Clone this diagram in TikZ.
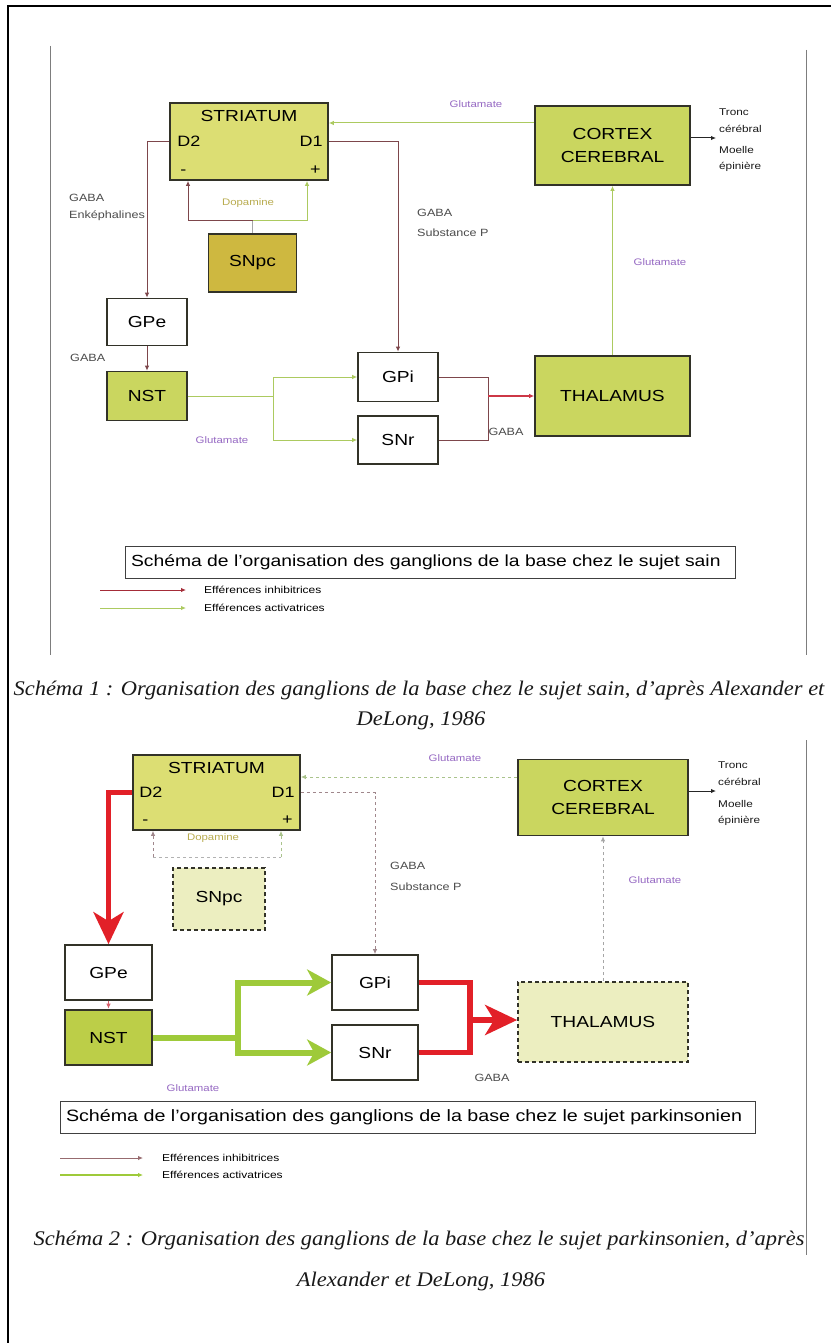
\documentclass[tikz,border=0pt]{standalone}
\usepackage{fontspec}
\setmainfont{Liberation Sans}[FakeStretch=1.2]
\newfontfamily\capfont{Liberation Serif}[FakeStretch=1.08]
\usetikzlibrary{arrows.meta}

\definecolor{boxline}{RGB}{50,50,40}
\definecolor{striafill}{RGB}{220,222,115}
\definecolor{greenfill}{RGB}{202,214,95}
\definecolor{snpcfill}{RGB}{206,184,64}
\definecolor{nstfill}{RGB}{188,206,72}
\definecolor{palefill}{RGB}{236,238,192}
\definecolor{inhib}{RGB}{125,70,75}
\definecolor{inhibred}{RGB}{205,55,70}
\definecolor{activ}{RGB}{172,202,96}
\definecolor{glut}{RGB}{150,105,195}
\definecolor{dopa}{RGB}{185,172,80}
\definecolor{redthick}{RGB}{226,32,40}
\definecolor{greenthick}{RGB}{158,202,58}
\definecolor{panelgray}{RGB}{125,125,125}
\definecolor{dashgray}{RGB}{160,135,140}
\definecolor{dashgreen}{RGB}{170,195,140}

\tikzset{
  blk/.style={draw=boxline, line width=1.7pt, inner sep=0pt, align=center,
              font=\fontsize{16}{23}\selectfont},
  intext/.style={inner sep=0pt, font=\fontsize{15}{17}\selectfont},
  lbl/.style={inner sep=0pt, font=\fontsize{10.5}{12}\selectfont, text=black!70},
  glutlbl/.style={lbl, text=glut, font=\fontsize{9.5}{11}\selectfont},
  dopalbl/.style={lbl, text=dopa, font=\fontsize{9.5}{11}\selectfont},
  side/.style={inner sep=0pt, anchor=west, text=black!90, font=\fontsize{9.8}{11}\selectfont},
  titlebox/.style={draw=black!75, line width=0.9pt, inner xsep=6pt, inner ysep=0pt,
                   minimum height=32pt, align=left},
  legtext/.style={inner sep=0pt, anchor=west, font=\fontsize{10}{12}\selectfont},
  caption/.style={inner sep=0pt, text=black!90, font=\capfont\itshape\fontsize{20.8}{24}\selectfont},
  smalltip/.style={-{Latex[length=5pt,width=4.5pt]}},
  thininh/.style={draw=inhib, line width=1pt, smalltip},
  thinact/.style={draw=activ, line width=1pt, smalltip},
  dashinh/.style={draw=dashgray, line width=0.9pt, dash pattern=on 3pt off 3pt, smalltip},
  dashact/.style={draw=dashgreen, line width=0.9pt, dash pattern=on 3pt off 3pt, smalltip},
  bigred/.style={draw=redthick, line width=5.5pt},
  biggreen/.style={draw=greenthick, line width=6pt},
  bigtip/.style={-{Stealth[length=32pt,width=30pt,inset=9pt]}},
  greentip/.style={-{Stealth[length=24pt,width=26pt,inset=7pt]}},
}

\begin{document}
\begin{tikzpicture}[x=1pt,y=-1pt]
\useasboundingbox (0,0) rectangle (831,1343);
\fill[white] (0,0) rectangle (831,1343);

% page frame (top and left edges)
\draw[black, line width=2.4pt] (8,1343) -- (8,6) -- (831,6);
% panel side rules
\draw[panelgray, line width=0.9pt] (50,46) -- (50,655);
\draw[panelgray, line width=0.9pt] (806,50) -- (806,655);
\draw[panelgray, line width=0.9pt] (806,740) -- (806,1255);

%%%%%%%%%%%%%%%%%%%%%%%%%%%%%%%% healthy subject
\node[blk, fill=striafill, minimum width=158pt, minimum height=77pt] (stri1) at (249,141.5) {};
\node[intext, anchor=north, font=\fontsize{16}{18}\selectfont] (stri1t) at ([yshift=-8pt]stri1.north) {STRIATUM};
\node[intext, anchor=west] (stri1a) at ([xshift=8pt]stri1.west) {D2};
\node[intext, anchor=east] (stri1b) at ([xshift=-6pt]stri1.east) {D1};
\node[intext, anchor=south west] (stri1c) at ([xshift=11pt,yshift=6pt]stri1.south west) {-};
\node[intext, anchor=south east] (stri1d) at ([xshift=-8pt,yshift=6pt]stri1.south east) {+};

\node[blk, fill=greenfill, minimum width=155pt, minimum height=79pt] (cort1) at (612.5,145.5) {CORTEX\\CEREBRAL};
\node[blk, fill=snpcfill, minimum width=88pt, minimum height=58pt] (snpc1) at (252.5,263) {SNpc};
\node[blk, fill=white, minimum width=80pt, minimum height=47pt] (gpe1) at (147,322) {GPe};
\node[blk, fill=greenfill, minimum width=80pt, minimum height=49pt] (nst1) at (147,396) {NST};
\node[blk, fill=white, minimum width=80pt, minimum height=49pt] (gpi1) at (398,377) {GPi};
\node[blk, fill=white, minimum width=80pt, minimum height=48pt] (snr1) at (398,440) {SNr};
\node[blk, fill=greenfill, minimum width=155pt, minimum height=80pt] (thal1) at (612.5,396) {THALAMUS};

% labels
\node[glutlbl] (g1a) at (476,104) {Glutamate};
\node[lbl, anchor=west] (g1b) at (69,198) {GABA};
\node[lbl, anchor=west] (g1c) at (69,216) {Enképhalines};
\node[dopalbl] (g1d) at (248,203) {Dopamine};
\node[lbl, anchor=west] (g1e) at (417,213) {GABA};
\node[lbl, anchor=west] (g1f) at (417,233) {Substance P};
\node[glutlbl] (g1g) at (660,262) {Glutamate};
\node[lbl, anchor=west] (g1h) at (70,358) {GABA};
\node[glutlbl] (g1i) at (222,440) {Glutamate};
\node[lbl] (g1j) at (506,432) {GABA};
\node[side] (tr1a) at (719,112) {Tronc};
\node[side] (tr1b) at (719,129) {cérébral};
\node[side] (tr1c) at (719,150) {Moelle};
\node[side] (tr1d) at (719,167) {épinière};
\coordinate (out1) at (716,138);

% connectors
\draw[thinact] (cort1.west |- 0,123) -- (stri1.east |- 0,123);
\draw[black!85, line width=1pt, -{Latex[length=5pt,width=4.5pt]}] (cort1.east |- out1) -- (out1);
\draw[thininh] (stri1.east) -- (stri1.east -| gpi1.north) -- (gpi1.north);
\draw[thininh] (stri1.west) -- (stri1.west -| gpe1.north) -- (gpe1.north);
\coordinate (dop1) at (snpc1.north |- 0,220);
\draw[gray!70, line width=1pt] (snpc1.north) -- (dop1);
\draw[thininh] (dop1) -- (188,220) -- (stri1.south -| 188,0);
\draw[thinact] (dop1) -- (307,220) -- (stri1.south -| 307,0);
\draw[thininh] (gpe1.south) -- (nst1.north);
\coordinate (br1) at (273,396);
\draw[activ, line width=1pt] (nst1.east) -- (br1);
\draw[thinact] (br1) |- (gpi1.west);
\draw[thinact] (br1) |- (snr1.west);
\coordinate (j1) at (488,396);
\draw[inhib, line width=1pt] (gpi1.east) -- (gpi1.east -| j1) -- (snr1.east -| j1) -- (snr1.east);
\draw[draw=inhibred, line width=1.4pt, smalltip] (j1) -- (thal1.west);
\draw[thinact] (thal1.north) -- (cort1.south);

% title and legend
\node[titlebox, text width=598pt, font=\fontsize{16.1}{18}\selectfont] (tb1) at (430,562.5) {Schéma de l'organisation des ganglions de la base chez le sujet sain};
\coordinate (l1a) at (100,590); \coordinate (l1b) at (186,590);
\coordinate (l1c) at (100,608); \coordinate (l1d) at (186,608);
\draw[draw=inhibred!80!black, line width=1pt, smalltip] (l1a) -- (l1b);
\draw[thinact] (l1c) -- (l1d);
\node[legtext] (lt1a) at (204,590) {Efférences inhibitrices};
\node[legtext] (lt1b) at (204,608) {Efférences activatrices};

\node[caption] (cap1a) at (419,690) {Schéma 1 : Organisation des ganglions de la base chez le sujet sain, d’après Alexander et};
\node[caption] (cap1b) at (421,721) {DeLong, 1986};

%%%%%%%%%%%%%%%%%%%%%%%%%%%%%%%% parkinsonian subject
\node[blk, fill=striafill, minimum width=167pt, minimum height=75pt] (stri2) at (216.5,792.5) {};
\node[intext, anchor=north, font=\fontsize{16}{18}\selectfont] (stri2t) at ([yshift=-8pt]stri2.north) {STRIATUM};
\node[intext, anchor=west] (stri2a) at ([xshift=7pt]stri2.west) {D2};
\node[intext, anchor=east] (stri2b) at ([xshift=-6pt]stri2.east) {D1};
\node[intext, anchor=south west] (stri2c) at ([xshift=10pt,yshift=6pt]stri2.south west) {-};
\node[intext, anchor=south east] (stri2d) at ([xshift=-8pt,yshift=6pt]stri2.south east) {+};

\node[blk, fill=greenfill, minimum width=170pt, minimum height=76pt] (cort2) at (603,797.5) {CORTEX\\CEREBRAL};
\node[blk, fill=palefill, dash pattern=on 4pt off 3pt, minimum width=92pt, minimum height=62pt] (snpc2) at (219,899) {SNpc};
\node[blk, fill=white, minimum width=87pt, minimum height=55pt] (gpe2) at (108.5,972.5) {GPe};
\node[blk, fill=nstfill, line width=2.6pt, minimum width=87pt, minimum height=55pt] (nst2) at (108.5,1037.5) {NST};
\node[blk, fill=white, minimum width=86pt, minimum height=55pt] (gpi2) at (375,982.5) {GPi};
\node[blk, fill=white, minimum width=86pt, minimum height=55pt] (snr2) at (375,1052.5) {SNr};
\node[blk, fill=palefill, dash pattern=on 4pt off 3pt, minimum width=170pt, minimum height=80pt] (thal2) at (603,1022) {THALAMUS};

% labels
\node[glutlbl] (g2a) at (455,758) {Glutamate};
\node[dopalbl] (g2b) at (213,838) {Dopamine};
\node[lbl, anchor=west] (g2c) at (390,866) {GABA};
\node[lbl, anchor=west] (g2d) at (390,887) {Substance P};
\node[glutlbl] (g2e) at (655,880) {Glutamate};
\node[glutlbl] (g2f) at (193,1088) {Glutamate};
\node[lbl] (g2g) at (492,1078) {GABA};
\node[side] (tr2a) at (718,765) {Tronc};
\node[side] (tr2b) at (718,782) {cérébral};
\node[side] (tr2c) at (718,804) {Moelle};
\node[side] (tr2d) at (718,821) {épinière};
\coordinate (out2) at (716,791);

% connectors
\draw[dashact] (cort2.west |- 0,777) -- (stri2.east |- 0,777);
\draw[black!85, line width=1pt, -{Latex[length=5pt,width=4.5pt]}] (cort2.east |- out2) -- (out2);
\draw[dashinh] (stri2.east) -- (stri2.east -| gpi2.north) -- (gpi2.north);
\draw[bigred, bigtip, line join=miter] (stri2.west) -- (stri2.west -| gpe2.north) -- (gpe2.north);
\coordinate (dop2a) at (153,857);
\coordinate (dop2b) at (281,857);
\draw[draw=gray!60, line width=0.9pt, dash pattern=on 3pt off 3pt] (dop2a) -- (dop2b);
\draw[dashinh] (dop2a) -- (stri2.south -| dop2a);
\draw[dashact] (dop2b) -- (stri2.south -| dop2b);
\draw[dashinh, draw=inhibred!80] (gpe2.south) -- (nst2.north);
\coordinate (br2) at (238,1037.5);
\draw[biggreen] (nst2.east) -- (br2);
\draw[biggreen, greentip, line join=miter] (br2) |- (gpi2.west);
\draw[biggreen, greentip, line join=miter] (br2) |- (snr2.west);
\coordinate (j2) at (470,1020);
\draw[bigred, line join=miter] (gpi2.east) -- (gpi2.east -| j2) -- (snr2.east -| j2) -- (snr2.east);
\draw[bigred, bigtip] (j2) -- (thal2.west |- j2);
\draw[dashinh, draw=gray!70] (thal2.north) -- (cort2.south);

% title and legend
\node[titlebox, text width=683pt, font=\fontsize{16.4}{18}\selectfont] (tb2) at (407.5,1117.5) {Schéma de l'organisation des ganglions de la base chez le sujet parkinsonien};
\coordinate (l2a) at (60,1158); \coordinate (l2b) at (143,1158);
\coordinate (l2c) at (60,1175); \coordinate (l2d) at (143,1175);
\draw[draw=inhib!80, line width=1pt, smalltip] (l2a) -- (l2b);
\draw[draw=greenthick, line width=2pt, smalltip] (l2c) -- (l2d);
\node[legtext] (lt2a) at (162,1158) {Efférences inhibitrices};
\node[legtext] (lt2b) at (162,1175) {Efférences activatrices};

\node[caption] (cap2a) at (419,1240) {Schéma 2 : Organisation des ganglions de la base chez le sujet parkinsonien, d’après};
\node[caption] (cap2b) at (421,1281) {Alexander et DeLong, 1986};
\end{tikzpicture}
\end{document}
